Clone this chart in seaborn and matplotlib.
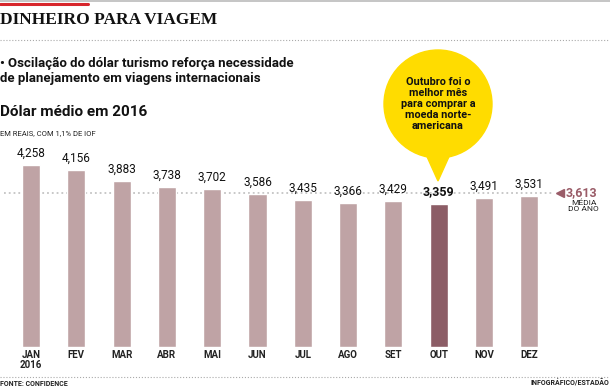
import numpy as np
import pandas as pd
import seaborn as sns
import matplotlib.pyplot as plt
from matplotlib.patches import Ellipse, Polygon

# Data
months = ['JAN\n2016', 'FEV', 'MAR', 'ABR', 'MAI', 'JUN', 'JUL', 'AGO', 'SET', 'OUT', 'NOV', 'DEZ']
dollar = [4.258, 4.156, 3.883, 3.738, 3.702, 3.586, 3.435, 3.366, 3.429, 3.359, 3.491, 3.531]
labels = ['4,258', '4,156', '3,883', '3,738', '3,702', '3,586', '3,435', '3,366', '3,429', '3,359', '3,491', '3,531']
average = 3.613
average_label = '3,613'
best_idx = 9  # OUT is highlighted

BAR = '#bfa3a5'
BEST = '#8c5d66'
AVG = '#9a5c68'
YELLOW = '#ffdc00'

W, H = 610, 388
sns.set_theme(style='white')
plt.rcParams['font.family'] = ['Roboto', 'DejaVu Sans']

fig = plt.figure(figsize=(W / 100, H / 100), dpi=100)


def fx(px):
    return px / W


def fy(py):
    return 1 - py / H


# Axes for the bars: bar i centred at 31 + 45.3*i px, baseline at y=347 px
step = 45.3
x0 = 31
ax = fig.add_axes([0, fy(347), 1, 347 / H])
df = pd.DataFrame({'month': months, 'value': dollar})
palette = {m: (BEST if i == best_idx else BAR) for i, m in enumerate(months)}
sns.barplot(data=df, x='month', y='value', hue='month', palette=palette,
            width=0.4, legend=False, ax=ax, saturation=1, zorder=3)
ax.set_xlim(-x0 / step, (W - x0) / step)
ax.set_ylim(0, 347 / 42.7)
ax.axis('off')

# Average line
ax.plot([-0.6, 11.5], [average, average], color='#c4c4c4', lw=1.3, ls=':', zorder=1)
ax.plot([11.68], [average], marker='<', color=AVG, markersize=6, zorder=4)
ax.text(11.8, average, average_label, color=AVG, fontsize=9, fontweight='bold',
        ha='left', va='center')
ax.text(12.2, average - 0.17, 'MÉDIA\nDO ANO', color='#222222', fontsize=6,
        ha='center', va='top', linespacing=1.0)

# Value labels
for i, (v, lab) in enumerate(zip(dollar, labels)):
    bold = i == best_idx
    ax.text(i, v + 0.12, lab, ha='center', va='bottom',
            fontsize=9 if bold else 8.5, fontweight='bold' if bold else 'normal',
            color='#111111')

# Month labels
for i, m in enumerate(months):
    ax.text(i, -0.06, m, ha='center', va='top', fontsize=7, fontweight='bold',
            color='#222222', linespacing=1.0, clip_on=False)

# Header
fig.add_artist(plt.Line2D([0, 1], [fy(0.5), fy(0.5)], color='#bbbbbb', lw=1.2))
fig.add_artist(plt.Line2D([0, fx(88)], [fy(3.5), fy(3.5)], color='#d7262c', lw=2.2))
fig.text(fx(0), fy(20), 'DINHEIRO PARA VIAGEM', family='Liberation Serif', fontweight='bold',
         fontsize=12.5, ha='left', va='center', color='#111111')
fig.add_artist(plt.Line2D([0, 1], [fy(40), fy(40)], color='#aaaaaa', lw=0.8, ls=':'))
fig.text(fx(0), fy(71), '• Oscilação do dólar turismo reforça necessidade\nde planejamento em viagens internacionais',
         fontsize=9.5, fontweight='bold', ha='left', va='center', color='#111111', linespacing=1.2)
fig.text(fx(0), fy(112), 'Dólar médio em 2016', fontsize=11, fontweight='bold',
         ha='left', va='center', color='#111111')
fig.text(fx(0), fy(133), 'EM REAIS, COM 1,1% DE IOF', fontsize=5.5,
         ha='left', va='center', color='#222222')

# Yellow callout
fig.add_artist(Ellipse((fx(438), fy(104)), 108 / W, 108 / H, transform=fig.transFigure,
                       color=YELLOW, zorder=5))
fig.add_artist(Polygon([(fx(424), fy(150)), (fx(452), fy(150)), (fx(438), fy(181))],
                       closed=True, transform=fig.transFigure, color=YELLOW, zorder=5))
fig.text(fx(438), fy(104), 'Outubro foi o\nmelhor mês\npara comprar a\nmoeda norte-\namericana',
         fontsize=7.8, fontweight='bold', ha='center', va='center', color='#111111',
         linespacing=1.15, zorder=6)

# Footer
fig.add_artist(plt.Line2D([0, 1], [fy(377), fy(377)], color='#aaaaaa', lw=0.8, ls=':'))
fig.text(fx(0), fy(384), 'FONTE: CONFIDENCE', fontsize=5, fontweight='bold',
         ha='left', va='center', color='#222222')
fig.text(fx(609), fy(384), 'INFOGRÁFICO/ESTADÃO', fontsize=5, fontweight='bold',
         ha='right', va='center', color='#222222')

fig.savefig('out.png', dpi=100)
